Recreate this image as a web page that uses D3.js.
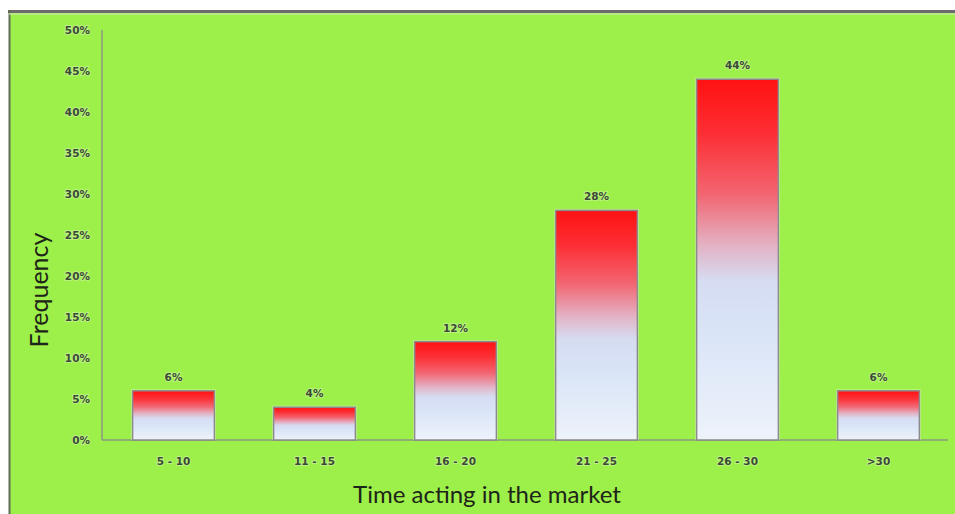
<!DOCTYPE html>
<html>
<head>
<meta charset="utf-8">
<script src="https://cdn.jsdelivr.net/npm/d3@7"></script>
<style>
  html, body { margin: 0; padding: 0; background: #ffffff; }
  svg { display: block; }
</style>
</head>
<body>
<svg id="chart" width="955" height="514"></svg>
<script>
// Share of respondents by years of activity in the market
const categories = ["5 - 10", "11 - 15", "16 - 20", "21 - 25", "26 - 30", ">30"];
const frequency = [0.06, 0.04, 0.12, 0.28, 0.44, 0.06];
const yTicks = [0, 0.05, 0.10, 0.15, 0.20, 0.25, 0.30, 0.35, 0.40, 0.45, 0.50];
const xTitle = "Time acting in the market";
const yTitle = "Frequency";

const W = 955, H = 514;
const svg = d3.select("#chart");

// panel with a dark frame on top and left
svg.append("rect").attr("x", 9).attr("y", 11).attr("width", W - 9).attr("height", H - 11)
  .attr("fill", "#9def4a");
svg.append("line").attr("x1", 8).attr("x2", W).attr("y1", 11.5).attr("y2", 11.5)
  .attr("stroke", "#6b6b6b").attr("stroke-width", 3);
svg.append("line").attr("x1", 9.5).attr("x2", 9.5).attr("y1", 10).attr("y2", H)
  .attr("stroke", "#5f6b55").attr("stroke-width", 2);
svg.append("line").attr("x1", 9).attr("x2", W).attr("y1", 14).attr("y2", 14)
  .attr("stroke", "#c4e79c").attr("stroke-width", 2).attr("opacity", 0.7);

const plot = { left: 102, right: 949, top: 30, bottom: 440 };

const x = d3.scaleBand().domain(categories)
  .range([plot.left + 1, plot.right]).paddingInner(0.42).paddingOuter(0.21);
const y = d3.scaleLinear().domain([0, 0.5]).range([plot.bottom, plot.top]);

// vertical fill: red at the top fading into pale blue
const defs = svg.append("defs");
const grad = defs.append("linearGradient").attr("id", "barFill")
  .attr("x1", 0).attr("y1", 0).attr("x2", 0).attr("y2", 1);
[[0, "#ff1212"], [0.15, "#fd2e34"], [0.32, "#f26672"], [0.46, "#e3b2c4"],
 [0.56, "#d6dcf2"], [0.7, "#d9e4f7"], [1, "#eef3fb"]].forEach(([o, c]) =>
  grad.append("stop").attr("offset", o).attr("stop-color", c));

const glow = defs.append("filter").attr("id", "soft").attr("x", "-10%").attr("y", "-10%")
  .attr("width", "120%").attr("height", "120%");
glow.append("feGaussianBlur").attr("stdDeviation", 0.5);

const labelFont = "DejaVu Sans, Verdana, sans-serif";
function styleLabel(sel) {
  sel.attr("font-family", labelFont)
    .attr("font-size", 10.5).attr("font-weight", "bold").attr("fill", "#3b4a34")
    .attr("stroke", "#d8f5b8").attr("stroke-width", 2).attr("stroke-opacity", 0.5)
    .attr("paint-order", "stroke");
}

// axes
const fmt = d3.format(".0%");
const yAxis = svg.append("g").attr("transform", `translate(${plot.left},0)`)
  .call(d3.axisLeft(y).tickValues(yTicks).tickFormat(fmt).tickSize(0).tickPadding(12));
const xAxis = svg.append("g").attr("transform", `translate(0,${plot.bottom})`)
  .call(d3.axisBottom(x).tickSize(0).tickPadding(18));
[yAxis, xAxis].forEach(g => {
  g.select(".domain").attr("stroke", "#8a9a80").attr("stroke-width", 1.5);
  styleLabel(g.selectAll("text"));
});
yAxis.select(".domain").attr("d", `M0,${plot.top}V${plot.bottom}`);
xAxis.select(".domain").attr("d", `M${plot.left},0H${plot.right - 1}`);

// bars
const bars = svg.append("g").selectAll("g").data(categories).join("g");
bars.append("rect")
  .attr("x", d => x(d) - 1.5).attr("width", x.bandwidth() + 3)
  .attr("y", (d, i) => y(frequency[i]) - 1.5)
  .attr("height", (d, i) => plot.bottom - y(frequency[i]) + 1.5)
  .attr("fill", "#e9f7d6").attr("opacity", 0.5).attr("filter", "url(#soft)");
bars.append("rect")
  .attr("x", d => x(d)).attr("width", x.bandwidth())
  .attr("y", (d, i) => y(frequency[i]))
  .attr("height", (d, i) => plot.bottom - y(frequency[i]))
  .attr("fill", "url(#barFill)")
  .attr("stroke", "#8b8b8b").attr("stroke-width", 1.5);

// value labels above each bar
bars.append("text")
  .attr("x", d => x(d) + x.bandwidth() / 2)
  .attr("y", (d, i) => y(frequency[i]) - 10)
  .attr("text-anchor", "middle")
  .call(styleLabel)
  .text((d, i) => fmt(frequency[i]));

// axis titles
svg.append("text")
  .attr("x", 487).attr("y", 503)
  .attr("text-anchor", "middle")
  .attr("font-family", "Lato, 'Open Sans', sans-serif").attr("font-size", 24)
  .attr("fill", "#1d2418").text(xTitle);
svg.append("text")
  .attr("transform", "translate(48,290) rotate(-90)")
  .attr("text-anchor", "middle")
  .attr("font-family", "Lato, 'Open Sans', sans-serif").attr("font-size", 25)
  .attr("fill", "#1d2418").text(yTitle);
</script>
</body>
</html>
